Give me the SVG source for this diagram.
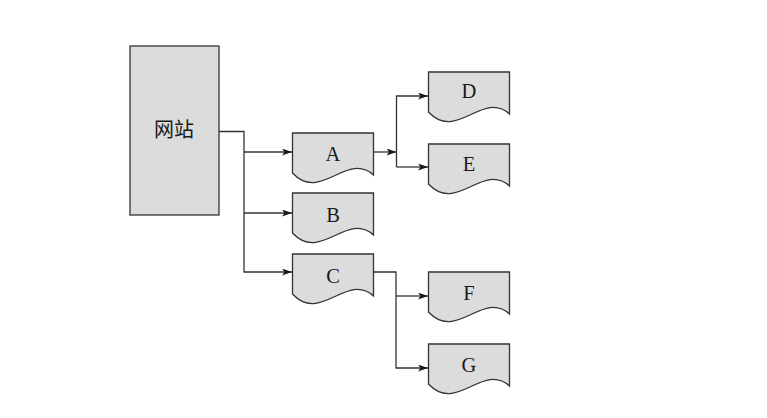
<svg xmlns="http://www.w3.org/2000/svg" width="767" height="418" viewBox="0 0 767 418">
<style>
.box{fill:#dcdcdc;stroke:#333;stroke-width:1.3}
.ln{fill:none;stroke:#333;stroke-width:1.3}
.lt{font-family:"Liberation Serif","Times New Roman",serif;font-size:20.5px;fill:#1a1a1a;text-anchor:middle}
.cj{font-family:"Liberation Serif","Noto Sans CJK SC",sans-serif;font-size:20px;fill:#1a1a1a;text-anchor:middle}
</style>
<defs>
<marker id="ah" viewBox="0 0 10 7" refX="10" refY="3.5" markerWidth="11" markerHeight="7" markerUnits="userSpaceOnUse" orient="auto">
<path d="M0,0 L10,3.5 L0,7 L2.5,3.5 Z" fill="#1a1a1a"/>
</marker>
<path id="doc" d="M0,0 H81 V42 C54,18 28,70 0,40 Z"/>
</defs>
<rect width="767" height="418" fill="#fff"/>
<g id="site"><rect class="box" x="130" y="46" width="89" height="169"/><text class="cj" x="174" y="137">网站</text></g>
<g id="A"><use href="#doc" class="box" x="292.5" y="133"/><text class="lt" x="333" y="161">A</text></g>
<g id="B"><use href="#doc" class="box" x="292.5" y="193"/><text class="lt" x="333" y="222">B</text></g>
<g id="C"><use href="#doc" class="box" x="292.5" y="254"/><text class="lt" x="333" y="283">C</text></g>
<g id="D"><use href="#doc" class="box" x="428.5" y="72"/><text class="lt" x="469" y="98">D</text></g>
<g id="E"><use href="#doc" class="box" x="428.5" y="144"/><text class="lt" x="469" y="171">E</text></g>
<g id="F"><use href="#doc" class="box" x="428.5" y="272"/><text class="lt" x="469" y="300">F</text></g>
<g id="G"><use href="#doc" class="box" x="428.5" y="344"/><text class="lt" x="469" y="372">G</text></g>
<g id="connectors">
<path class="ln" d="M219,131.5 H244 V272 H292" marker-end="url(#ah)"/>
<path class="ln" d="M244,152 H292" marker-end="url(#ah)"/>
<path class="ln" d="M244,213 H292" marker-end="url(#ah)"/>
<path class="ln" d="M373.5,152 H396.5" marker-end="url(#ah)"/>
<path class="ln" d="M396.5,167 V96 H428" marker-end="url(#ah)"/>
<path class="ln" d="M396.5,167 H428" marker-end="url(#ah)"/>
<path class="ln" d="M373.5,272 H396 V368 H428" marker-end="url(#ah)"/>
<path class="ln" d="M396,296 H428" marker-end="url(#ah)"/>
</g>
</svg>
